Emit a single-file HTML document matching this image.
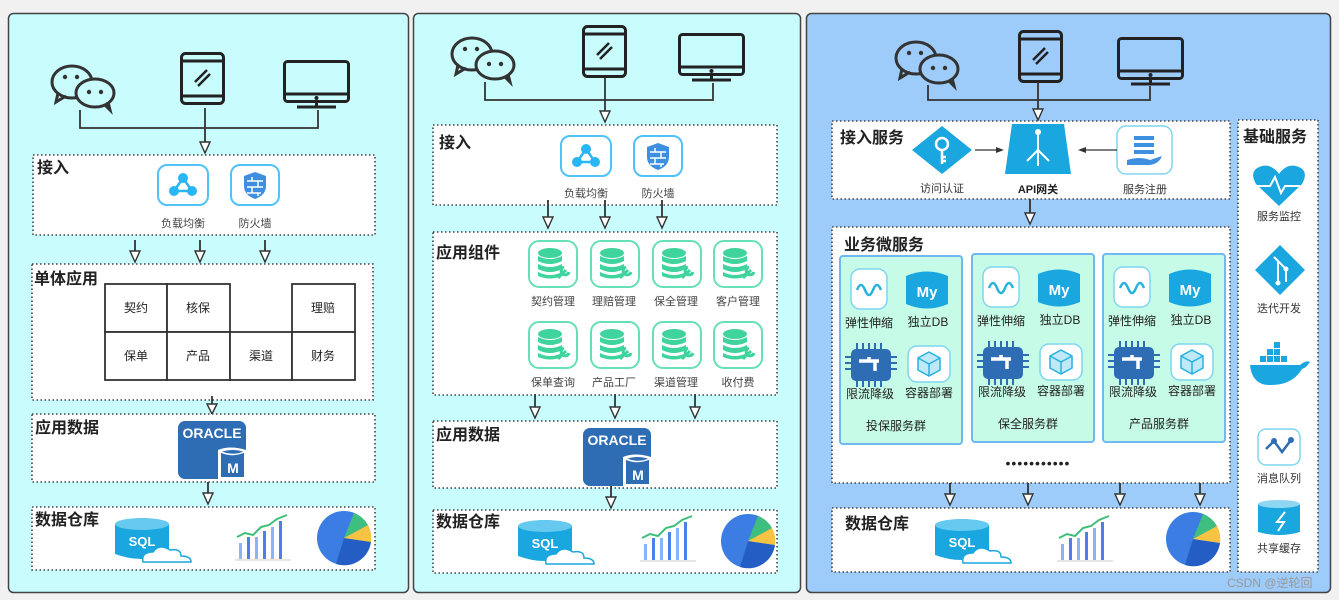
<!DOCTYPE html>
<html><head><meta charset="utf-8"><style>
html,body{margin:0;padding:0;background:#f1f1f1}
svg{display:block}
text{font-family:"Liberation Sans","Noto Sans CJK SC",sans-serif}
.t{font-size:16px;font-weight:bold;fill:#222}
.l{font-size:11px;fill:#444;text-anchor:middle}
.c{font-size:12px;fill:#222;text-anchor:middle}
.box{fill:#fff;stroke:#444;stroke-width:1.6;stroke-dasharray:1.5 2.5}
.ln{stroke:#333;stroke-width:1.8;fill:none}
.ah{fill:#fff;stroke:#333;stroke-width:1.4}
</style></head><body>
<svg width="1339" height="600" viewBox="0 0 1339 600" xmlns="http://www.w3.org/2000/svg">
<defs>
<symbol id="wx" overflow="visible">
 <ellipse cx="22" cy="20" rx="20" ry="16" fill="none" stroke="#333" stroke-width="3"/>
 <path d="M8 31 L6 40 L16 34" fill="none" stroke="#333" stroke-width="3"/>
 <ellipse cx="45" cy="31" rx="19" ry="14" stroke="#333" stroke-width="3"/>
 <path d="M55 43 L60 48 L58 40" fill="none" stroke="#333" stroke-width="3"/>
 <circle cx="15" cy="15" r="2.2" fill="#333"/><circle cx="27" cy="15" r="2.2" fill="#333"/>
 <circle cx="39" cy="30" r="2.2" fill="#333"/><circle cx="51" cy="30" r="2.2" fill="#333"/>
</symbol>
<symbol id="tab" overflow="visible">
 <rect x="1.5" y="1.5" width="42" height="50" rx="4" fill="none" stroke="#222" stroke-width="3"/>
 <line x1="1.5" y1="9" x2="43.5" y2="9" stroke="#222" stroke-width="3"/>
 <line x1="1.5" y1="44" x2="43.5" y2="44" stroke="#222" stroke-width="3"/>
 <line x1="15" y1="30" x2="27" y2="18" stroke="#222" stroke-width="2.5"/>
 <line x1="18" y1="34" x2="30" y2="22" stroke="#222" stroke-width="2.5"/>
</symbol>
<symbol id="mon" overflow="visible">
 <rect x="1.5" y="1.5" width="64" height="40" rx="3" fill="none" stroke="#222" stroke-width="3"/>
 <line x1="1.5" y1="34" x2="65.5" y2="34" stroke="#222" stroke-width="3"/>
 <line x1="33.5" y1="41" x2="33.5" y2="47" stroke="#222" stroke-width="3"/>
 <line x1="14" y1="47" x2="53" y2="47" stroke="#222" stroke-width="3"/>
 <circle cx="33.5" cy="38" r="2" fill="#222"/>
</symbol>
<symbol id="lb" overflow="visible">
 <rect x="1" y="1" width="50" height="40" rx="9" fill="#fff" stroke="#4fc3f7" stroke-width="2"/>
 <path d="M26 14 L17 27 L35 27 Z" fill="none" stroke="#29b6f6" stroke-width="2.5"/>
 <circle cx="26" cy="14" r="5" fill="#29b6f6"/><circle cx="17" cy="27" r="5" fill="#29b6f6"/><circle cx="35" cy="27" r="5" fill="#29b6f6"/>
</symbol>
<symbol id="fw" overflow="visible">
 <rect x="1" y="1" width="48" height="40" rx="9" fill="#fff" stroke="#4fc3f7" stroke-width="2"/>
 <path d="M25 8 L36 12 L36 22 Q36 31 25 35 Q14 31 14 22 L14 12 Z" fill="#3f8fe0"/>
 <path d="M17 17 H33 M17 23 H33 M17 29 H31 M22 13 V17 M28 17 V23 M22 23 V29 M28 29 V32" stroke="#fff" stroke-width="1.5"/>
</symbol>
<symbol id="db" overflow="visible">
 <rect x="1" y="1" width="48" height="46" rx="10" fill="#fff" stroke="#66e0b5" stroke-width="2"/>
 <ellipse cx="22" cy="13" rx="12" ry="5" fill="#3fd49d"/>
 <path d="M10 16 Q22 22 34 16 V21 Q22 27 10 21 Z M10 24 Q22 30 34 24 V29 Q22 35 10 29 Z M10 32 Q22 38 34 32 V36 Q22 41 10 36 Z" fill="#3fd49d"/>
 <path d="M30 38 L38 30 M36 27 a4 4 0 1 0 5 5" stroke="#3fd49d" stroke-width="3" fill="none"/>
</symbol>
<symbol id="ora" overflow="visible">
 <rect x="0" y="0" width="68" height="58" rx="7" fill="#2e6db4"/>
 <text x="34" y="17" font-size="14" font-weight="bold" fill="#fff" text-anchor="middle">ORACLE</text>
 <path d="M40 29 Q52 24 68 29 V58 H40 Z" fill="#fff"/>
 <path d="M43 31 Q55 27 66 31 V56 H43 Z" fill="#2e6db4"/>
 <path d="M43 31 Q55 36 66 31" stroke="#fff" stroke-width="1.5" fill="none"/>
 <text x="55" y="52" font-size="14" font-weight="bold" fill="#fff" text-anchor="middle">M</text>
</symbol>
<symbol id="sql" overflow="visible">
 <path d="M0 8 Q27 -4 54 8 V38 Q27 48 0 38 Z" fill="#1aa6df"/>
 <ellipse cx="27" cy="8" rx="27" ry="6" fill="#66c9ef"/>
 <text x="27" y="30" font-size="13" font-weight="bold" fill="#fff" text-anchor="middle">SQL</text>
 <path d="M28 46 Q26 36 38 36 Q44 27 55 34 Q66 32 66 40 Q76 40 76 46 Z" fill="#fff" stroke="#1aa6df" stroke-width="1.5"/>
</symbol>
<symbol id="chart" overflow="visible">
 <rect x="4" y="28" width="3" height="16" fill="#8ab4f8"/><rect x="12" y="22" width="3" height="22" fill="#4a80e8"/>
 <rect x="20" y="22" width="3" height="22" fill="#8ab4f8"/><rect x="28" y="16" width="3" height="28" fill="#4a80e8"/>
 <rect x="36" y="12" width="3" height="32" fill="#8ab4f8"/><rect x="44" y="6" width="3" height="38" fill="#4a80e8"/>
 <path d="M2 22 L10 18 L18 20 L26 12 L34 10 L42 4 L52 0" fill="none" stroke="#3cbf7a" stroke-width="2"/>
 <line x1="0" y1="45" x2="56" y2="45" stroke="#ccc"/>
</symbol>
<symbol id="pie" overflow="visible">
 <circle cx="28" cy="23" r="27" fill="#3b7de2"/>
 <path d="M28 23 L55 27 A27 27 0 0 1 20 49 Z" fill="#245ec4"/>
 <path d="M28 23 L38 -2 A27 27 0 0 1 52 10 Z" fill="#3fbf7f"/>
 <path d="M28 23 L52 10 A27 27 0 0 1 55 27 Z" fill="#f7c342"/>
</symbol>
<symbol id="wave" overflow="visible">
 <rect x="1" y="1" width="36" height="40" rx="9" fill="#fff" stroke="#7fd6ee" stroke-width="1.5"/>
 <path d="M7 22 Q11 12 15 22 T23 22 T31 22" fill="none" stroke="#27b3e0" stroke-width="2.5"/>
</symbol>
<symbol id="my" overflow="visible">
 <path d="M0 6 Q21 -3 42 6 V34 Q21 43 0 34 Z" fill="#1aa6df"/>
 <text x="21" y="27" font-size="15" font-weight="bold" fill="#fff" text-anchor="middle">My</text>
</symbol>
<symbol id="chip" overflow="visible">
 <rect x="6" y="6" width="40" height="32" rx="5" fill="#2e6db4"/>
 <path d="M12 0 V6 M18 0 V6 M24 0 V6 M30 0 V6 M36 0 V6 M12 38 V44 M18 38 V44 M24 38 V44 M30 38 V44 M36 38 V44 M0 14 H6 M0 20 H6 M0 26 H6 M46 14 H52 M46 20 H52 M46 26 H52" stroke="#2e6db4" stroke-width="2"/>
 <path d="M14 18 H34 M24 14 V18 M30 18 V28" stroke="#fff" stroke-width="3.5"/>
</symbol>
<symbol id="cube" overflow="visible">
 <rect x="1" y="1" width="42" height="36" rx="9" fill="#fff" stroke="#7fd6ee" stroke-width="1.5"/>
 <path d="M22 7 L33 13 V25 L22 31 L11 25 V13 Z" fill="#bfe9f7" stroke="#27b3e0" stroke-width="1.5"/>
 <path d="M11 13 L22 19 L33 13 M22 19 V31" stroke="#27b3e0" stroke-width="1.5" fill="none"/>
</symbol>
</defs>

<!-- panels -->
<rect x="8.5" y="13.5" width="400" height="579" rx="5" fill="#c8fcfd" stroke="#444" stroke-width="1.5"/>
<rect x="413.5" y="13.5" width="387" height="579" rx="5" fill="#c8fcfd" stroke="#444" stroke-width="1.5"/>
<rect x="806.5" y="13.5" width="524" height="579" rx="5" fill="#9dcbfa" stroke="#444" stroke-width="1.5"/>

<!-- ===== Panel 1 ===== -->
<use href="#wx" x="50" y="62" fill="#c8fcfd"/>
<use href="#tab" x="180" y="52"/>
<use href="#mon" x="283" y="60"/>
<path class="ln" d="M80 110 V128 H318 V110 M205 108 V143"/>
<path class="ah" d="M200 142 L210 142 L205 153 Z"/>

<rect class="box" x="33" y="155" width="342" height="80"/>
<text class="t" x="37" y="173">接入</text>
<use href="#lb" x="157" y="164"/><use href="#fw" x="230" y="164"/>
<text class="l" x="183" y="227">负载均衡</text><text class="l" x="255" y="227">防火墙</text>
<g><path class="ln" d="M135 240 V252 M200 240 V252 M265 240 V252"/>
<path class="ah" d="M130 251 L140 251 L135 262 Z M195 251 L205 251 L200 262 Z M260 251 L270 251 L265 262 Z"/></g>

<rect class="box" x="32" y="264" width="341" height="136"/>
<text class="t" x="34" y="284">单体应用</text>
<g fill="#fff" stroke="#333" stroke-width="1.8">
<rect x="105" y="284" width="62" height="48"/><rect x="167" y="284" width="63" height="48"/>
<rect x="292" y="284" width="63" height="48"/>
<rect x="105" y="332" width="62" height="48"/><rect x="167" y="332" width="63" height="48"/>
<rect x="230" y="332" width="62" height="48"/><rect x="292" y="332" width="63" height="48"/></g>
<text class="c" x="136" y="312">契约</text><text class="c" x="198" y="312">核保</text><text class="c" x="323" y="312">理赔</text>
<text class="c" x="136" y="360">保单</text><text class="c" x="198" y="360">产品</text><text class="c" x="261" y="360">渠道</text><text class="c" x="323" y="360">财务</text>
<path class="ln" d="M212 396 V405"/><path class="ah" d="M207 404 L217 404 L212 414 Z"/>

<rect class="box" x="32" y="414" width="343" height="68"/>
<text class="t" x="35" y="433">应用数据</text>
<use href="#ora" x="178" y="421"/>
<path class="ln" d="M208 482 V494"/><path class="ah" d="M203 493 L213 493 L208 504 Z"/>

<rect class="box" x="32" y="507" width="343" height="63"/>
<text class="t" x="35" y="525">数据仓库</text>
<use href="#sql" x="115" y="516"/><use href="#chart" x="235" y="515"/><use href="#pie" x="316" y="515"/>

<!-- ===== Panel 2 ===== -->
<use href="#wx" x="450" y="34" fill="#c8fcfd"/>
<use href="#tab" x="582" y="25"/>
<use href="#mon" x="678" y="33"/>
<path class="ln" d="M485 82 V100 H713 V83 M605 78 V112"/>
<path class="ah" d="M600 111 L610 111 L605 122 Z"/>

<rect class="box" x="433" y="125" width="344" height="80"/>
<text class="t" x="439" y="148">接入</text>
<use href="#lb" x="560" y="135"/><use href="#fw" x="633" y="135"/>
<text class="l" x="586" y="197">负载均衡</text><text class="l" x="658" y="197">防火墙</text>
<path class="ln" d="M548 200 V218 M605 200 V218 M662 200 V218"/>
<path class="ah" d="M543 217 L553 217 L548 228 Z M600 217 L610 217 L605 228 Z M657 217 L667 217 L662 228 Z"/>

<rect class="box" x="433" y="232" width="344" height="163"/>
<text class="t" x="436" y="258">应用组件</text>
<use href="#db" x="528" y="240"/><use href="#db" x="590" y="240"/><use href="#db" x="652" y="240"/><use href="#db" x="713" y="240"/>
<use href="#db" x="528" y="321"/><use href="#db" x="590" y="321"/><use href="#db" x="652" y="321"/><use href="#db" x="713" y="321"/>
<text class="l" x="553" y="305">契约管理</text><text class="l" x="614" y="305">理赔管理</text><text class="l" x="676" y="305">保全管理</text><text class="l" x="738" y="305">客户管理</text>
<text class="l" x="553" y="386">保单查询</text><text class="l" x="614" y="386">产品工厂</text><text class="l" x="676" y="386">渠道管理</text><text class="l" x="738" y="386">收付费</text>
<path class="ln" d="M535 394 V408 M615 394 V408 M695 394 V408"/>
<path class="ah" d="M530 407 L540 407 L535 418 Z M610 407 L620 407 L615 418 Z M690 407 L700 407 L695 418 Z"/>

<rect class="box" x="433" y="421" width="344" height="67"/>
<text class="t" x="436" y="440">应用数据</text>
<use href="#ora" x="583" y="428"/>
<path class="ln" d="M611 486 V498"/><path class="ah" d="M606 497 L616 497 L611 508 Z"/>

<rect class="box" x="433" y="510" width="344" height="63"/>
<text class="t" x="436" y="527">数据仓库</text>
<use href="#sql" x="518" y="518"/><use href="#chart" x="640" y="516"/><use href="#pie" x="720" y="518"/>

<!-- ===== Panel 3 ===== -->
<use href="#wx" x="894" y="38" fill="#9dcbfa"/>
<use href="#tab" x="1018" y="30"/>
<use href="#mon" x="1117" y="37"/>
<path class="ln" d="M928 85 V100 H1150 V86 M1038 82 V110"/>
<path class="ah" d="M1033 109 L1043 109 L1038 120 Z"/>

<rect class="box" x="832" y="121" width="398" height="78"/>
<text class="t" x="840" y="143">接入服务</text>
<path d="M942 126 L972 150 L942 174 L912 150 Z" fill="#1aa6df"/>
<circle cx="942" cy="144" r="6" fill="none" stroke="#fff" stroke-width="2.5"/><path d="M942 150 V164 M942 157 H946 M942 161 H946" stroke="#fff" stroke-width="2.5"/>
<path d="M1012 124 H1064 L1071 174 H1005 Z" fill="#1aa6df"/>
<path d="M1038 132 V166 M1038 150 L1027 161 M1038 150 L1049 161" stroke="#fff" stroke-width="2" fill="none"/><circle cx="1038" cy="132" r="3" fill="#fff"/>
<rect x="1117" y="126" width="55" height="48" rx="9" fill="#fff" stroke="#7fd6ee" stroke-width="1.5"/>
<path d="M1134 136 H1154 V140 H1134 Z M1134 143 H1154 V147 H1134 Z M1134 150 H1154 V154 H1134 Z" fill="#3f8fe0"/>
<path d="M1127 160 Q1140 156 1150 160 L1162 156 Q1158 166 1145 165 L1127 165 Z" fill="#3f8fe0"/>
<path class="ln" d="M975 150 H1000" style="stroke-width:1.2"/><path d="M996 147 L1004 150 L996 153 Z" fill="#333"/>
<path class="ln" d="M1117 150 H1082" style="stroke-width:1.2"/><path d="M1086 147 L1078 150 L1086 153 Z" fill="#333"/>
<text x="942" y="192" font-size="11" fill="#333" text-anchor="middle">访问认证</text>
<text x="1038" y="193" font-size="11" font-weight="bold" fill="#222" text-anchor="middle">API网关</text>
<text x="1145" y="193" font-size="11" fill="#333" text-anchor="middle">服务注册</text>
<path class="ln" d="M1030 199 V214"/><path class="ah" d="M1025 213 L1035 213 L1030 224 Z"/>

<rect class="box" x="832" y="227" width="398" height="256"/>
<text class="t" x="844" y="250">业务微服务</text>
<g id="grp">
<rect x="840" y="256" width="122" height="188" rx="3" fill="#c6fbe8" stroke="#6fb8f0" stroke-width="2"/>
<use href="#wave" x="850" y="268"/><use href="#my" x="906" y="270"/>
<text x="869" y="327" font-size="12" fill="#222" text-anchor="middle">弹性伸缩</text>
<text x="928" y="326" font-size="12" fill="#222" text-anchor="middle">独立DB</text>
<use href="#chip" x="845" y="343"/><use href="#cube" x="907" y="345"/>
<text x="870" y="398" font-size="12" fill="#222" text-anchor="middle">限流降级</text>
<text x="929" y="397" font-size="12" fill="#222" text-anchor="middle">容器部署</text>
</g>
<text x="896" y="430" font-size="12" fill="#222" text-anchor="middle">投保服务群</text>
<use href="#grp" x="132" y="-2"/>
<text x="1028" y="428" font-size="12" fill="#222" text-anchor="middle">保全服务群</text>
<use href="#grp" x="263" y="-2"/>
<text x="1159" y="428" font-size="12" fill="#222" text-anchor="middle">产品服务群</text>
<text x="1038" y="468" font-size="14" fill="#222" text-anchor="middle" letter-spacing="1">•••••••••••</text>
<path class="ln" d="M950 483 V495 M1028 483 V495 M1120 483 V495 M1200 483 V495"/>
<path class="ah" d="M945 494 L955 494 L950 505 Z M1023 494 L1033 494 L1028 505 Z M1115 494 L1125 494 L1120 505 Z M1195 494 L1205 494 L1200 505 Z"/>

<rect class="box" x="832" y="508" width="398" height="64"/>
<text class="t" x="845" y="529">数据仓库</text>
<use href="#sql" x="935" y="517"/><use href="#chart" x="1057" y="516"/><use href="#pie" x="1165" y="516"/>

<rect class="box" x="1238" y="120" width="80" height="452"/>
<text class="t" x="1243" y="142">基础服务</text>
<path d="M1279 206 L1256 184 Q1248 170 1262 166 Q1272 164 1279 174 Q1286 164 1296 166 Q1310 170 1302 184 Z" fill="#1aa6df"/>
<path d="M1256 186 H1270 L1275 177 L1281 193 L1285 186 H1300" stroke="#fff" stroke-width="2" fill="none"/>
<text x="1279" y="220" font-size="11" fill="#333" text-anchor="middle">服务监控</text>
<path d="M1280 245 L1305 270 L1280 295 L1255 270 Z" fill="#1aa6df"/>
<path d="M1274 257 L1286 269 V282 M1278 261 V282" stroke="#fff" stroke-width="2" fill="none"/><circle cx="1278" cy="283" r="2.5" fill="#fff"/><circle cx="1286" cy="269" r="2.5" fill="#fff"/>
<text x="1279" y="312" font-size="11" fill="#333" text-anchor="middle">迭代开发</text>
<path d="M1250 365 H1300 Q1306 360 1310 362 Q1306 368 1302 369 Q1292 386 1268 385 Q1252 384 1250 365 Z" fill="#1aa6df"/>
<g fill="#1aa6df"><rect x="1260" y="356" width="6" height="6"/><rect x="1267" y="356" width="6" height="6"/><rect x="1274" y="356" width="6" height="6"/><rect x="1281" y="356" width="6" height="6"/><rect x="1267" y="349" width="6" height="6"/><rect x="1274" y="349" width="6" height="6"/><rect x="1274" y="342" width="6" height="6"/></g>
<rect x="1258" y="429" width="42" height="36" rx="8" fill="#fff" stroke="#7fd6ee" stroke-width="1.5"/>
<path d="M1266 449 L1274 441 L1282 452 L1291 440" stroke="#2e6db4" stroke-width="2.5" fill="none"/>
<circle cx="1274" cy="441" r="3" fill="#2e6db4"/><circle cx="1291" cy="440" r="3" fill="#2e6db4"/>
<text x="1279" y="482" font-size="11" fill="#333" text-anchor="middle">消息队列</text>
<path d="M1258 504 Q1279 498 1300 504 V532 Q1279 538 1258 532 Z" fill="#1aa6df"/>
<ellipse cx="1279" cy="504" rx="21" ry="4" fill="#8fd6f2"/>
<path d="M1285 512 L1277 522 H1284 L1278 531" stroke="#fff" stroke-width="2" fill="none"/>
<text x="1279" y="552" font-size="11" fill="#333" text-anchor="middle">共享缓存</text>

<text x="1227" y="587" font-size="12" fill="#999">CSDN @逆轮回</text>
</svg>
</body></html>
